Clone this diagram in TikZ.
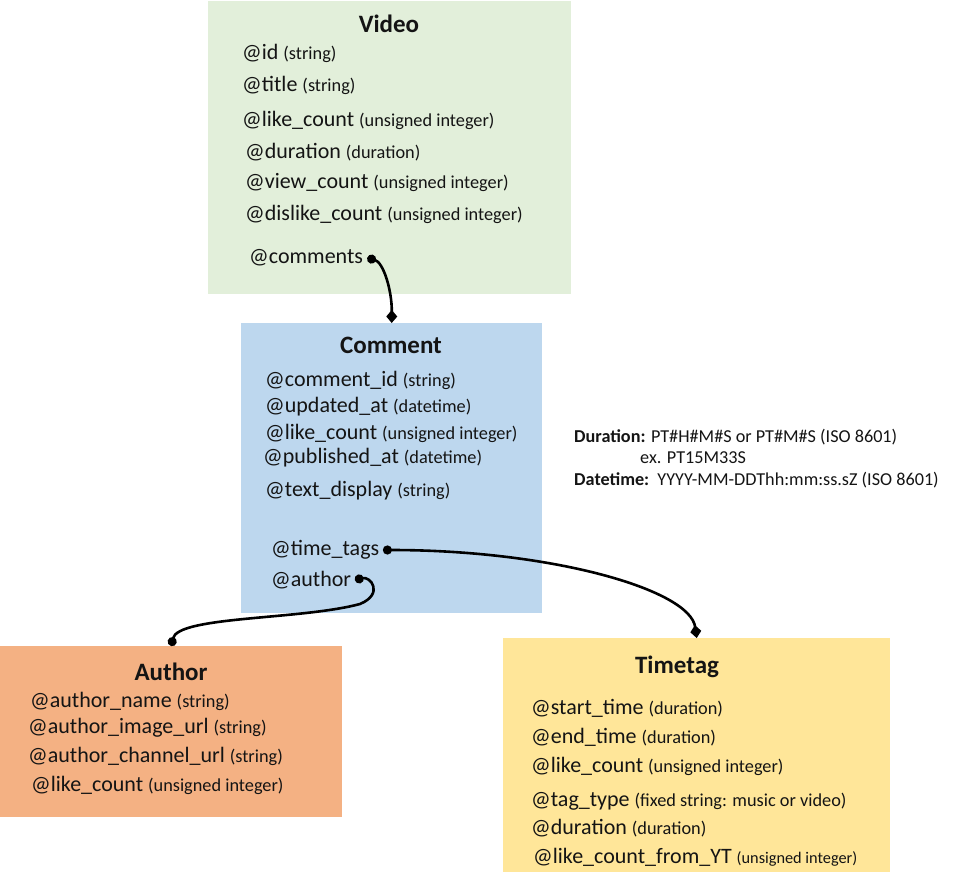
\documentclass[tikz,border=0pt]{standalone}
\usepackage{fontspec}
\setmainfont{Carlito}
\usetikzlibrary{arrows.meta}

\definecolor{vgreen}{RGB}{226,239,218}
\definecolor{cblue}{RGB}{189,215,238}
\definecolor{aorange}{RGB}{244,177,131}
\definecolor{tyellow}{RGB}{255,230,153}
\definecolor{ink}{RGB}{20,20,20}

% attribute line: name in the normal size, type in a smaller one
\newcommand{\fname}{\fontsize{22}{26}\selectfont}
\newcommand{\fld}[2]{\fname @#1\ {\fontsize{18.3}{22}\selectfont(#2)}}
\newcommand{\fldsm}[2]{\fname @#1\ {\fontsize{16.3}{20}\selectfont(#2)}}

\tikzset{
  entity/.style={draw=none, inner sep=0pt, anchor=north west},
  title/.style={font=\fontsize{25}{28}\selectfont\bfseries, text=ink},
  attr/.style={anchor=west, inner sep=0pt, text=ink},
  note/.style={anchor=west, inner sep=0pt, text=ink, font=\fontsize{18.2}{21}\selectfont},
  link/.style={line width=2.6pt, black},
  ref/.style={link, {Circle[length=9pt]}-{Diamond[length=13pt,width=11pt]}},
  own/.style={link, {Circle[length=9pt]}-{Circle[length=9pt]}},
}

\begin{document}
\begin{tikzpicture}[x=1pt,y=-1pt]
\useasboundingbox (0,0) rectangle (960,882);

% entity boxes
\node[entity, fill=vgreen, minimum width=363pt, minimum height=293pt] (video) at (208,1) {};
\node[entity, fill=cblue, minimum width=301pt, minimum height=290pt] (comment) at (241,323) {};
\node[entity, fill=aorange, minimum width=342pt, minimum height=171pt] (author) at (0,646) {};
\node[entity, fill=tyellow, minimum width=387pt, minimum height=234pt] (timetag) at (503,638) {};

% Video
\node[title] (vtitle) at (389,24) {Video};
\node[attr] (vid) at (242,53) {\fld{id}{string}};
\node[attr] (vtitle2) at (242,85) {\fld{title}{string}};
\node[attr] (vlike) at (242,120) {\fld{like\_count}{unsigned integer}};
\node[attr] (vdur) at (245,152) {\fld{duration}{duration}};
\node[attr] (vview) at (245,183) {\fld{view\_count}{unsigned integer}};
\node[attr] (vdislike) at (245,214) {\fld{dislike\_count}{unsigned integer}};
\node[attr] (vcomments) at (249,258) {\fname @comments};

% Comment
\node[title] (ctitle) at (391,345) {Comment};
\node[attr] (cid) at (265,380) {\fld{comment\_id}{string}};
\node[attr] (cupd) at (265,407) {\fld{updated\_at}{datetime}};
\node[attr] (clike) at (265,433) {\fld{like\_count}{unsigned integer}};
\node[attr] (cpub) at (263,458) {\fld{published\_at}{datetime}};
\node[attr] (ctext) at (265,491) {\fld{text\_display}{string}};
\node[attr] (ctags) at (271,550) {\fname @time\_tags};
\node[attr] (cauthor) at (271,580) {\fname @author};

% Author
\node[title] (atitle) at (171,672) {Author};
\node[attr] (aname) at (30,701) {\fld{author\_name}{string}};
\node[attr] (aimg) at (28,728) {\fld{author\_image\_url}{string}};
\node[attr] (achan) at (28,756) {\fld{author\_channel\_url}{string}};
\node[attr] (alike) at (31,785) {\fld{like\_count}{unsigned integer}};

% Timetag
\node[title] (ttitle) at (677,667) {Timetag};
\node[attr] (tstart) at (531,708) {\fld{start\_time}{duration}};
\node[attr] (tend) at (531,737) {\fld{end\_time}{duration}};
\node[attr] (tlike) at (531,766) {\fld{like\_count}{unsigned integer}};
\node[attr] (ttype) at (531,801) {\fld{tag\_type}{fixed string: music or video}};
\node[attr] (tdur) at (531,828) {\fld{duration}{duration}};
\node[attr] (tyt) at (533,857) {\fldsm{like\_count\_from\_YT}{unsigned integer}};

% format notes
\node[note] (ndur) at (574,437) {\textbf{Duration:} PT\#H\#M\#S or PT\#M\#S (ISO 8601)};
\node[note] (nex) at (640,458) {ex. PT15M33S};
\node[note] (ndt) at (574,480) {\textbf{Datetime:}\ \ YYYY-MM-DDThh:mm:ss.sZ (ISO 8601)};

% connector end points beside the field names
\coordinate (pcomments) at ([xshift=4pt]vcomments.east);
\coordinate (ptags) at ([xshift=3.5pt]ctags.east);
\coordinate (pauthor) at ([xshift=3.5pt]cauthor.east);

% connectors
\draw[ref] (pcomments) .. controls ++(16,4) and (392,290) .. (comment.north);
\draw[ref] (ptags) .. controls ++(170,0) and (690,590) .. (timetag.north);
\draw[own] (pauthor) .. controls ++(16,-4) and (384,594) .. (360,604)
  .. controls (300,620) and (178,616) .. (author.north);
\end{tikzpicture}
\end{document}
